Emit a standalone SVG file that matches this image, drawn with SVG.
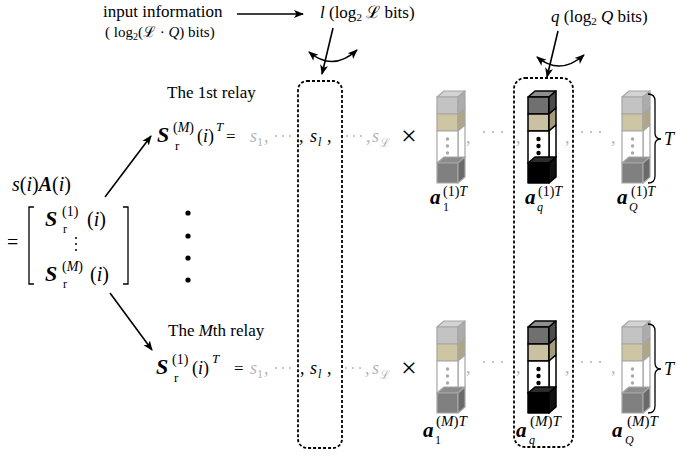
<svg xmlns="http://www.w3.org/2000/svg" width="692" height="456" viewBox="0 0 692 456" font-family="Liberation Serif, Times New Roman, DejaVu Serif, serif">
<style>
text{font-family:"Liberation Serif","Times New Roman","DejaVu Serif",serif;fill:#000}
.t{font-size:17px}
.i{font-style:italic}
.b{font-style:italic;font-weight:bold}
.g{fill:#b4b4b4}
.conn{stroke:#000;stroke-width:1.6;fill:none}
.box{fill:none;stroke:#000;stroke-width:1.8;stroke-dasharray:3 2}
.br{fill:none;stroke:#000;stroke-width:1.3}
.fo{stroke:#a6a6a6;stroke-width:1.2;stroke-linejoin:round}
.do{stroke:#000;stroke-width:1.5;stroke-linejoin:round}
.gd{fill:#b4b4b4}
</style>
<defs>
<marker id="ah" viewBox="0 0 10 10" refX="9" refY="5" markerWidth="10" markerHeight="10" markerUnits="userSpaceOnUse" orient="auto-start-reverse"><path d="M0,1 L10,5 L0,9 L2.5,5 Z" fill="#000"/></marker>
<g id="colF" class="fo">
<polygon points="0,0 7,-6 28,-6 21,0" fill="#d3d3d3"/>
<rect x="0" y="0" width="21" height="17" fill="#c3c3c3"/>
<polygon points="21,0 28,-6 28,11 21,17" fill="#acacac"/>
<rect x="0" y="17" width="21" height="17" fill="#cec6a3"/>
<polygon points="21,17 28,11 28,28 21,34" fill="#aea684"/>
<polygon points="21,34 28,28 28,60 21,66" fill="#fff"/>
<rect x="0" y="34" width="21" height="32" fill="#fff"/>
<polygon points="0,66 7,60 28,60 21,66" fill="#8c8c8c"/>
<rect x="0" y="66" width="21" height="20" fill="#808080"/>
<polygon points="21,66 28,60 28,80 21,86" fill="#6a6a6a"/>
<circle cx="10.5" cy="42" r="1.7" fill="#a8a8a8" stroke="none"/>
<circle cx="10.5" cy="49" r="1.7" fill="#a8a8a8" stroke="none"/>
<circle cx="10.5" cy="56" r="1.7" fill="#a8a8a8" stroke="none"/>
</g>
<g id="colD" class="do">
<polygon points="0,0 7,-6 28,-6 21,0" fill="#8e8e8e"/>
<rect x="0" y="0" width="21" height="17" fill="#707070"/>
<polygon points="21,0 28,-6 28,11 21,17" fill="#4c4c4c"/>
<rect x="0" y="17" width="21" height="17" fill="#c9c1a1"/>
<polygon points="21,17 28,11 28,28 21,34" fill="#a39b7b"/>
<polygon points="21,34 28,28 28,60 21,66" fill="#fff"/>
<rect x="0" y="34" width="21" height="32" fill="#fff"/>
<polygon points="0,66 7,60 28,60 21,66" fill="#2c2c2c"/>
<rect x="0" y="66" width="21" height="20" fill="#000"/>
<polygon points="21,66 28,60 28,80 21,86" fill="#121212"/>
<circle cx="10.5" cy="42" r="2.2" fill="#000" stroke="none"/>
<circle cx="10.5" cy="49" r="2.2" fill="#000" stroke="none"/>
<circle cx="10.5" cy="56" r="2.2" fill="#000" stroke="none"/>
</g>
</defs>
<rect width="692" height="456" fill="#fff"/>

<g id="input-info">
<text class="t" x="103" y="17">input information</text>
<text x="105" y="37" font-size="15">( log<tspan font-size="10" dy="3">2</tspan><tspan dy="-3">(ℒ · </tspan><tspan class="i">Q</tspan>) bits)</text>
</g>

<g id="l-label">
<text x="320" y="18" font-size="17"><tspan class="i">l</tspan> (log<tspan font-size="11" dy="3">2</tspan><tspan dy="-3"> ℒ bits)</tspan></text>
</g>

<g id="q-label">
<text x="551" y="22" font-size="17"><tspan class="i">q</tspan> (log<tspan font-size="11" dy="3">2</tspan><tspan dy="-3"> </tspan><tspan class="i">Q</tspan> bits)</text>
</g>

<g id="box-l"><rect class="box" x="298" y="81" width="44" height="367" rx="9"/></g>
<g id="box-q"><rect class="box" x="514" y="78" width="59" height="369" rx="11"/></g>

<g id="matrix">
<text x="12" y="191" font-size="20"><tspan class="i">s</tspan>(<tspan class="i">i</tspan>)<tspan class="b">A</tspan>(<tspan class="i">i</tspan>)</text>
<text x="7" y="249" font-size="20">=</text>
<path class="br" d="M34,207 L29,207 L29,284 L34,284"/>
<path class="br" d="M123,207 L128,207 L128,284 L123,284"/>
<text class="b" x="45" y="226" font-size="22">S</text>
<text x="62" y="216" font-size="14">(1)</text>
<text x="63" y="233" font-size="12">r</text>
<text x="87" y="226" font-size="20">(<tspan class="i">i</tspan>)</text>
<circle cx="76" cy="238" r="1"/><circle cx="76" cy="244" r="1"/><circle cx="76" cy="250" r="1"/>
<text class="b" x="45" y="281" font-size="22">S</text>
<text x="62" y="271" font-size="14">(<tspan class="i">M</tspan>)</text>
<text x="63" y="288" font-size="12">r</text>
<text x="90" y="281" font-size="20">(<tspan class="i">i</tspan>)</text>
</g>

<g id="vdots">
<circle cx="188" cy="213" r="2.6"/><circle cx="188" cy="236" r="2.6"/><circle cx="188" cy="258" r="2.6"/><circle cx="188" cy="280" r="2.6"/>
</g>

<g id="relay-1">
<text class="t" x="167" y="98">The 1st relay</text>
<text class="b" x="157" y="142" font-size="22">S</text>
<text x="173" y="132" font-size="14">(<tspan class="i">M</tspan>)</text>
<text x="175" y="150" font-size="13">r</text>
<text x="197" y="142" font-size="18">(<tspan class="i">i</tspan>)</text>
<text class="i" x="216" y="131" font-size="13">T</text>
<text x="226" y="142" font-size="17">=</text>
<text class="i g" x="250" y="142" font-size="18">s</text>
<text class="g" x="257" y="146" font-size="12">1</text>
<text class="g" x="264" y="142" font-size="18">,</text>
<circle class="gd" cx="276" cy="136" r="1"/><circle class="gd" cx="283" cy="136" r="1"/><circle class="gd" cx="290" cy="136" r="1"/>
<text x="299" y="142" font-size="18">,</text>
<text class="i" x="310" y="142" font-size="18">s</text>
<text class="i" x="318" y="146" font-size="12">l</text>
<text x="327" y="142" font-size="18">,</text>
<circle class="gd" cx="347" cy="136" r="1"/><circle class="gd" cx="354" cy="136" r="1"/><circle class="gd" cx="361" cy="136" r="1"/>
<text class="g" x="366" y="142" font-size="18">,</text>
<text class="i g" x="372" y="142" font-size="18">s</text>
<text class="g" x="380" y="147" font-size="12">ℒ</text>
<text x="401" y="145" font-size="28">×</text>
</g>

<g id="relay-M">
<text class="t" x="168" y="336">The <tspan class="i">M</tspan>th relay</text>
<text class="b" x="156" y="374" font-size="22">S</text>
<text x="172" y="364" font-size="14">(1)</text>
<text x="174" y="382" font-size="13">r</text>
<text x="192" y="374" font-size="18">(<tspan class="i">i</tspan>)</text>
<text class="i" x="212" y="363" font-size="13">T</text>
<text x="234" y="374" font-size="17">=</text>
<text class="i g" x="250" y="374" font-size="18">s</text>
<text class="g" x="257" y="378" font-size="12">1</text>
<text class="g" x="264" y="374" font-size="18">,</text>
<circle class="gd" cx="276" cy="368" r="1"/><circle class="gd" cx="283" cy="368" r="1"/><circle class="gd" cx="290" cy="368" r="1"/>
<text x="300" y="374" font-size="18">,</text>
<text class="i" x="310" y="374" font-size="18">s</text>
<text class="i" x="318" y="378" font-size="12">l</text>
<text x="327" y="374" font-size="18">,</text>
<circle class="gd" cx="346" cy="368" r="1"/><circle class="gd" cx="353" cy="368" r="1"/><circle class="gd" cx="360" cy="368" r="1"/>
<text class="g" x="365" y="374" font-size="18">,</text>
<text class="i g" x="372" y="374" font-size="18">s</text>
<text class="g" x="380" y="379" font-size="12">ℒ</text>
<text x="401" y="377" font-size="28">×</text>
</g>

<g id="columns-1">
<use href="#colF" x="437" y="97"/>
<use href="#colD" x="528" y="97"/>
<use href="#colF" x="622" y="97"/>
<text class="g" x="466" y="143" font-size="18">,</text>
<circle class="gd" cx="484" cy="132" r="1.1"/><circle class="gd" cx="493" cy="132" r="1.1"/><circle class="gd" cx="502" cy="132" r="1.1"/>
<text class="g" x="516" y="143" font-size="18">,</text>
<text class="g" x="565" y="143" font-size="18">,</text>
<circle class="gd" cx="582" cy="132" r="1.1"/><circle class="gd" cx="591" cy="132" r="1.1"/><circle class="gd" cx="600" cy="132" r="1.1"/>
<text class="g" x="611" y="143" font-size="18">,</text>
<path class="br" stroke-width="1.6" d="M648,94 Q655,94 655,101 L655,133 Q655,139 661,139 Q655,139 655,145 L655,176 Q655,183 648,183"/>
<text class="i" x="664" y="145" font-size="18">T</text>
<text class="b" x="430" y="204" font-size="21">a</text>
<text x="443" y="211" font-size="12">1</text>
<text x="443" y="196" font-size="14">(1)<tspan class="i">T</tspan></text>
<text class="b" x="525" y="204" font-size="21">a</text>
<text class="i" x="537" y="211" font-size="12">q</text>
<text x="538" y="196" font-size="14">(1)<tspan class="i">T</tspan></text>
<text class="b" x="617" y="204" font-size="21">a</text>
<text class="i" x="629" y="211" font-size="12">Q</text>
<text x="631" y="196" font-size="14">(1)<tspan class="i">T</tspan></text>
</g>

<g id="columns-M">
<use href="#colF" x="437" y="327"/>
<use href="#colD" x="528" y="327"/>
<use href="#colF" x="622" y="327"/>
<text class="g" x="466" y="373" font-size="18">,</text>
<circle class="gd" cx="484" cy="362" r="1.1"/><circle class="gd" cx="493" cy="362" r="1.1"/><circle class="gd" cx="502" cy="362" r="1.1"/>
<text class="g" x="516" y="373" font-size="18">,</text>
<text class="g" x="565" y="373" font-size="18">,</text>
<circle class="gd" cx="582" cy="362" r="1.1"/><circle class="gd" cx="591" cy="362" r="1.1"/><circle class="gd" cx="600" cy="362" r="1.1"/>
<text class="g" x="611" y="373" font-size="18">,</text>
<path class="br" stroke-width="1.6" d="M648,324 Q655,324 655,331 L655,363 Q655,369 661,369 Q655,369 655,375 L655,406 Q655,413 648,413"/>
<text class="i" x="664" y="375" font-size="18">T</text>
<text class="b" x="423" y="437" font-size="21">a</text>
<text x="435" y="444" font-size="12">1</text>
<text x="436" y="426" font-size="15">(<tspan class="i">M</tspan>)<tspan class="i">T</tspan></text>
<text class="b" x="516" y="437" font-size="21">a</text>
<text class="i" x="529" y="444" font-size="12">q</text>
<text x="530" y="426" font-size="15">(<tspan class="i">M</tspan>)<tspan class="i">T</tspan></text>
<text class="b" x="612" y="437" font-size="21">a</text>
<text class="i" x="625" y="444" font-size="12">Q</text>
<text x="627" y="426" font-size="15">(<tspan class="i">M</tspan>)<tspan class="i">T</tspan></text>
</g>

<g id="connectors">
<line class="conn" x1="237" y1="14" x2="303" y2="14" marker-end="url(#ah)"/>
<line class="conn" x1="333" y1="28" x2="322" y2="74" marker-end="url(#ah)"/>
<path class="conn" d="M309,52 Q333,72 357,50" marker-start="url(#ah)" marker-end="url(#ah)"/>
<line class="conn" x1="558" y1="31" x2="547" y2="77" marker-end="url(#ah)"/>
<path class="conn" d="M537,57 Q560,76 584,55" marker-start="url(#ah)" marker-end="url(#ah)"/>
<line class="conn" x1="105" y1="197" x2="151" y2="136" marker-end="url(#ah)"/>
<line class="conn" x1="110" y1="293" x2="152" y2="350" marker-end="url(#ah)"/>
</g>
</svg>
